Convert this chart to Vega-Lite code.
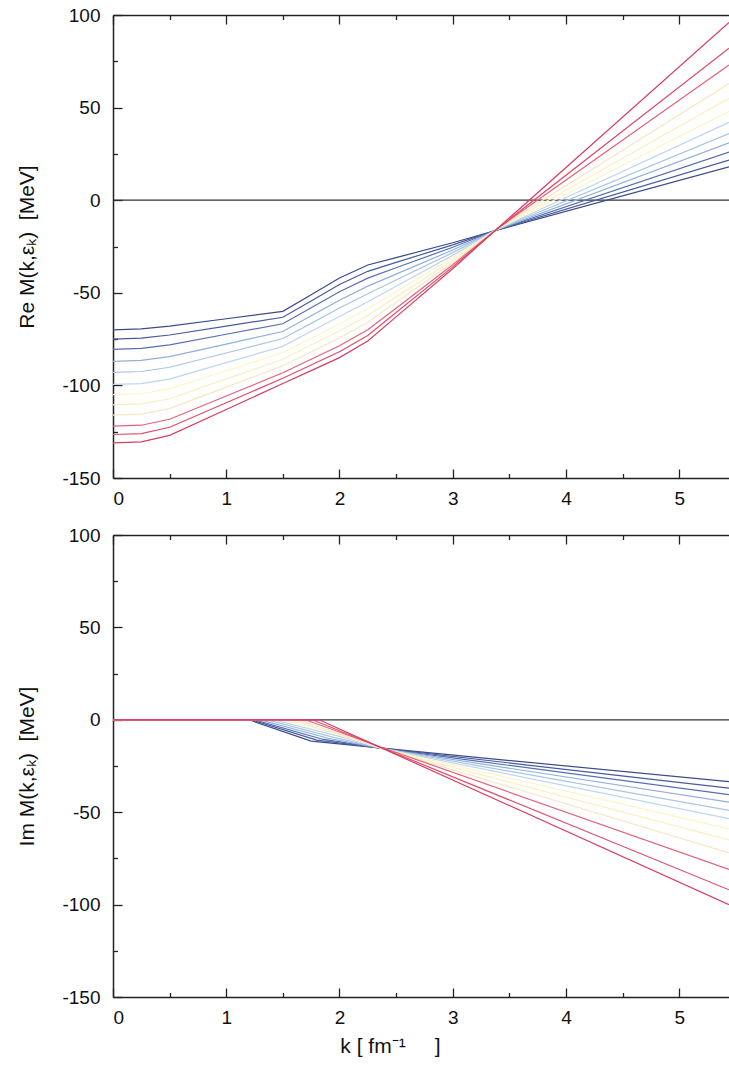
{
  "$schema": "https://vega.github.io/schema/vega-lite/v6.json",
  "padding": {"left": 16, "top": 6, "right": 0, "bottom": 4},
  "bounds": "flush",
  "spacing": 57,
  "config": {
    "view": {"stroke": null},
    "font": "Liberation Sans",
    "axis": {
      "grid": false,
      "domainColor": "#222222",
      "domainWidth": 1.5,
      "tickColor": "#222222",
      "tickWidth": 1.3,
      "tickSize": -9,
      "labelFont": "Liberation Sans",
      "labelFontSize": 19,
      "labelColor": "#111111",
      "titleFont": "Liberation Sans",
      "titleFontSize": 21,
      "titleFontWeight": "normal",
      "titleColor": "#111111"
    }
  },
  "datasets": {
    "zero": [{"k": 0, "v": 0}, {"k": 5.44, "v": 0}],
    "re": [
      {"c":0,"k":0,"v":-70},{"c":0,"k":0.25,"v":-69.5},{"c":0,"k":0.5,"v":-68},{"c":0,"k":1,"v":-64},{"c":0,"k":1.5,"v":-60},{"c":0,"k":1.75,"v":-51},{"c":0,"k":2,"v":-42},{"c":0,"k":2.25,"v":-35},{"c":0,"k":2.5,"v":-31},{"c":0,"k":3,"v":-23},{"c":0,"k":3.4,"v":-16},{"c":0,"k":5.44,"v":18},
      {"c":1,"k":0,"v":-75},{"c":1,"k":0.25,"v":-74.5},{"c":1,"k":0.5,"v":-72.8},{"c":1,"k":1,"v":-68},{"c":1,"k":1.5,"v":-63.2},{"c":1,"k":1.75,"v":-54.4},{"c":1,"k":2,"v":-45.5},{"c":1,"k":2.25,"v":-38.4},{"c":1,"k":2.5,"v":-33.6},{"c":1,"k":3,"v":-24.1},{"c":1,"k":3.4,"v":-15.9},{"c":1,"k":5.44,"v":21.6},
      {"c":2,"k":0,"v":-80.5},{"c":2,"k":0.25,"v":-80},{"c":2,"k":0.5,"v":-78.1},{"c":2,"k":1,"v":-72.4},{"c":2,"k":1.5,"v":-66.7},{"c":2,"k":1.75,"v":-58.1},{"c":2,"k":2,"v":-49.4},{"c":2,"k":2.25,"v":-42.1},{"c":2,"k":2.5,"v":-36.5},{"c":2,"k":3,"v":-25.4},{"c":2,"k":3.4,"v":-15.8},{"c":2,"k":5.44,"v":26},
      {"c":3,"k":0,"v":-87},{"c":3,"k":0.25,"v":-86.5},{"c":3,"k":0.5,"v":-84.5},{"c":3,"k":1,"v":-77.7},{"c":3,"k":1.5,"v":-70.9},{"c":3,"k":1.75,"v":-62.4},{"c":3,"k":2,"v":-54},{"c":3,"k":2.25,"v":-46.4},{"c":3,"k":2.5,"v":-39.9},{"c":3,"k":3,"v":-26.9},{"c":3,"k":3.4,"v":-15.7},{"c":3,"k":5.44,"v":31},
      {"c":4,"k":0,"v":-93},{"c":4,"k":0.25,"v":-92.5},{"c":4,"k":0.5,"v":-90.2},{"c":4,"k":1,"v":-82.5},{"c":4,"k":1.5,"v":-74.7},{"c":4,"k":1.75,"v":-66.5},{"c":4,"k":2,"v":-58.2},{"c":4,"k":2.25,"v":-50.5},{"c":4,"k":2.5,"v":-43.1},{"c":4,"k":3,"v":-28.3},{"c":4,"k":3.4,"v":-15.6},{"c":4,"k":5.44,"v":36},
      {"c":5,"k":0,"v":-99.5},{"c":5,"k":0.25,"v":-99},{"c":5,"k":0.5,"v":-96.6},{"c":5,"k":1,"v":-87.7},{"c":5,"k":1.5,"v":-78.9},{"c":5,"k":1.75,"v":-70.8},{"c":5,"k":2,"v":-62.8},{"c":5,"k":2.25,"v":-54.8},{"c":5,"k":2.5,"v":-46.5},{"c":5,"k":3,"v":-29.8},{"c":5,"k":3.4,"v":-15.5},{"c":5,"k":5.44,"v":42},
      {"c":6,"k":0,"v":-105},{"c":6,"k":0.25,"v":-104.5},{"c":6,"k":0.5,"v":-101.9},{"c":6,"k":1,"v":-92.1},{"c":6,"k":1.5,"v":-82.4},{"c":6,"k":1.75,"v":-74.5},{"c":6,"k":2,"v":-66.7},{"c":6,"k":2.25,"v":-58.5},{"c":6,"k":2.5,"v":-49.4},{"c":6,"k":3,"v":-31},{"c":6,"k":3.4,"v":-15.4},{"c":6,"k":5.44,"v":48},
      {"c":7,"k":0,"v":-110.5},{"c":7,"k":0.25,"v":-110},{"c":7,"k":0.5,"v":-107.2},{"c":7,"k":1,"v":-96.5},{"c":7,"k":1.5,"v":-85.9},{"c":7,"k":1.75,"v":-78.2},{"c":7,"k":2,"v":-70.6},{"c":7,"k":2.25,"v":-62.2},{"c":7,"k":2.5,"v":-52.2},{"c":7,"k":3,"v":-32.3},{"c":7,"k":3.4,"v":-15.3},{"c":7,"k":5.44,"v":55},
      {"c":8,"k":0,"v":-116},{"c":8,"k":0.25,"v":-115.5},{"c":8,"k":0.5,"v":-112.5},{"c":8,"k":1,"v":-100.9},{"c":8,"k":1.5,"v":-89.4},{"c":8,"k":1.75,"v":-81.9},{"c":8,"k":2,"v":-74.4},{"c":8,"k":2.25,"v":-65.9},{"c":8,"k":2.5,"v":-55.1},{"c":8,"k":3,"v":-33.6},{"c":8,"k":3.4,"v":-15.2},{"c":8,"k":5.44,"v":63},
      {"c":9,"k":0,"v":-122},{"c":9,"k":0.25,"v":-121.5},{"c":9,"k":0.5,"v":-118.3},{"c":9,"k":1,"v":-105.7},{"c":9,"k":1.5,"v":-93.2},{"c":9,"k":1.75,"v":-85.9},{"c":9,"k":2,"v":-78.6},{"c":9,"k":2.25,"v":-69.9},{"c":9,"k":2.5,"v":-58.3},{"c":9,"k":3,"v":-34.9},{"c":9,"k":3.4,"v":-15.1},{"c":9,"k":5.44,"v":73},
      {"c":10,"k":0,"v":-126.5},{"c":10,"k":0.25,"v":-126},{"c":10,"k":0.5,"v":-122.6},{"c":10,"k":1,"v":-109.4},{"c":10,"k":1.5,"v":-96.1},{"c":10,"k":1.75,"v":-89},{"c":10,"k":2,"v":-81.8},{"c":10,"k":2.25,"v":-73},{"c":10,"k":2.5,"v":-60.6},{"c":10,"k":3,"v":-36},{"c":10,"k":3.4,"v":-15.1},{"c":10,"k":5.44,"v":82},
      {"c":11,"k":0,"v":-131},{"c":11,"k":0.25,"v":-130.5},{"c":11,"k":0.5,"v":-127},{"c":11,"k":1,"v":-113},{"c":11,"k":1.5,"v":-99},{"c":11,"k":1.75,"v":-92},{"c":11,"k":2,"v":-85},{"c":11,"k":2.25,"v":-76},{"c":11,"k":2.5,"v":-63},{"c":11,"k":3,"v":-37},{"c":11,"k":3.4,"v":-15},{"c":11,"k":5.44,"v":96}
    ],
    "im": [
      {"c":0,"k":0,"v":0},{"c":0,"k":1.2,"v":0},{"c":0,"k":1.75,"v":-11.5},{"c":0,"k":2.4,"v":-15.5},{"c":0,"k":5.44,"v":-33.5},
      {"c":1,"k":0,"v":0},{"c":1,"k":1.22,"v":0},{"c":1,"k":1.8,"v":-11},{"c":1,"k":2.4,"v":-15.6},{"c":1,"k":5.44,"v":-37},
      {"c":2,"k":0,"v":0},{"c":2,"k":1.25,"v":0},{"c":2,"k":1.85,"v":-10.5},{"c":2,"k":2.4,"v":-15.7},{"c":2,"k":5.44,"v":-40.5},
      {"c":3,"k":0,"v":0},{"c":3,"k":1.3,"v":0},{"c":3,"k":1.9,"v":-10},{"c":3,"k":2.4,"v":-15.8},{"c":3,"k":5.44,"v":-44.5},
      {"c":4,"k":0,"v":0},{"c":4,"k":1.36,"v":0},{"c":4,"k":1.95,"v":-9.5},{"c":4,"k":2.4,"v":-15.8},{"c":4,"k":5.44,"v":-49},
      {"c":5,"k":0,"v":0},{"c":5,"k":1.42,"v":0},{"c":5,"k":2,"v":-9},{"c":5,"k":2.4,"v":-15.9},{"c":5,"k":5.44,"v":-53.5},
      {"c":6,"k":0,"v":0},{"c":6,"k":1.5,"v":0},{"c":6,"k":2.05,"v":-8.5},{"c":6,"k":2.4,"v":-15.9},{"c":6,"k":5.44,"v":-59},
      {"c":7,"k":0,"v":0},{"c":7,"k":1.57,"v":0},{"c":7,"k":2.4,"v":-16},{"c":7,"k":5.44,"v":-65},
      {"c":8,"k":0,"v":0},{"c":8,"k":1.63,"v":0},{"c":8,"k":2.4,"v":-16},{"c":8,"k":5.44,"v":-72},
      {"c":9,"k":0,"v":0},{"c":9,"k":1.7,"v":0},{"c":9,"k":2.4,"v":-15.5},{"c":9,"k":5.44,"v":-81},
      {"c":10,"k":0,"v":0},{"c":10,"k":1.76,"v":0},{"c":10,"k":2.4,"v":-15.8},{"c":10,"k":5.44,"v":-92},
      {"c":11,"k":0,"v":0},{"c":11,"k":1.82,"v":0},{"c":11,"k":2.4,"v":-16},{"c":11,"k":5.44,"v":-100}
    ]
  },
  "vconcat": [
    {
      "width": 616,
      "height": 463,
      "resolve": {"axis": {"x": "independent"}},
      "layer": [
        {
          "data": {"name": "zero"},
          "mark": {"type": "line", "color": "#333333", "strokeWidth": 1.2},
          "encoding": {
            "x": {"field": "k", "type": "quantitative", "scale": {"domain": [0, 5.44], "nice": false, "zero": false},
              "axis": {"orient": "top", "values": [0,0.5,1,1.5,2,2.5,3,3.5,4,4.5,5], "labels": false, "title": null,
                "tickDash": {"condition": {"test": "datum.value % 1 !== 0", "value": [4.5, 30]}, "value": []}}},
            "y": {"field": "v", "type": "quantitative", "scale": {"domain": [-150, 100], "nice": false}}
          }
        },
        {
          "data": {"name": "re"},
          "mark": {"type": "line", "strokeWidth": 1.2},
          "encoding": {
            "x": {"field": "k", "type": "quantitative", "scale": {"domain": [0, 5.44], "nice": false, "zero": false},
              "axis": {"orient": "bottom", "values": [0,0.5,1,1.5,2,2.5,3,3.5,4,4.5,5], "title": null,
                "labelExpr": "datum.value % 1 === 0 ? '' + datum.value : ''", "labelPadding": 20,
                "tickDash": {"condition": {"test": "datum.value % 1 !== 0", "value": [4.5, 30]}, "value": []}}},
            "y": {"field": "v", "type": "quantitative", "scale": {"domain": [-150, 100], "nice": false},
              "axis": {"orient": "left", "values": [-150,-125,-100,-75,-50,-25,0,25,50,75,100], "title": "Re M(k,εₖ)\u00a0\u00a0[MeV]",
                "labelExpr": "datum.value % 50 === 0 ? '' + datum.value : ''", "labelPadding": 22,
                "tickDash": {"condition": {"test": "datum.value % 50 !== 0", "value": [4.5, 30]}, "value": []},
                "titleX": -86, "titleBaseline": "middle"}},
            "color": {"field": "c", "type": "nominal",
              "scale": {"domain": [0,1,2,3,4,5,6,7,8,9,10,11],
                "range": ["#3c4a8a","#475a9c","#5570b0","#90b0da","#a8c4e6","#bcd6ef","#fdf5c6","#fbefc0","#f9e6c4","#e2627c","#dc4e6c","#d63e60"]},
              "legend": null}
          }
        }
      ]
    },
    {
      "width": 616,
      "height": 462,
      "resolve": {"axis": {"x": "independent"}},
      "layer": [
        {
          "data": {"name": "zero"},
          "mark": {"type": "line", "color": "#333333", "strokeWidth": 1.2},
          "encoding": {
            "x": {"field": "k", "type": "quantitative", "scale": {"domain": [0, 5.44], "nice": false, "zero": false},
              "axis": {"orient": "top", "values": [0,0.5,1,1.5,2,2.5,3,3.5,4,4.5,5], "labels": false, "title": null,
                "tickDash": {"condition": {"test": "datum.value % 1 !== 0", "value": [4.5, 30]}, "value": []}}},
            "y": {"field": "v", "type": "quantitative", "scale": {"domain": [-150, 100], "nice": false}}
          }
        },
        {
          "data": {"name": "im"},
          "mark": {"type": "line", "strokeWidth": 1.2},
          "encoding": {
            "x": {"field": "k", "type": "quantitative", "scale": {"domain": [0, 5.44], "nice": false, "zero": false},
              "axis": {"orient": "bottom", "values": [0,0.5,1,1.5,2,2.5,3,3.5,4,4.5,5], "title": "k\u00a0[\u00a0fm⁻¹\u00a0\u00a0\u00a0\u00a0\u00a0]",
                "labelExpr": "datum.value % 1 === 0 ? '' + datum.value : ''", "labelPadding": 20,
                "tickDash": {"condition": {"test": "datum.value % 1 !== 0", "value": [4.5, 30]}, "value": []},
                "titleX": 277, "titleY": 55, "titleBaseline": "alphabetic", "titleAlign": "center"}},
            "y": {"field": "v", "type": "quantitative", "scale": {"domain": [-150, 100], "nice": false},
              "axis": {"orient": "left", "values": [-150,-125,-100,-75,-50,-25,0,25,50,75,100], "title": "Im M(k,εₖ)\u00a0\u00a0[MeV]",
                "labelExpr": "datum.value % 50 === 0 ? '' + datum.value : ''", "labelPadding": 22,
                "tickDash": {"condition": {"test": "datum.value % 50 !== 0", "value": [4.5, 30]}, "value": []},
                "titleX": -86, "titleBaseline": "middle"}},
            "color": {"field": "c", "type": "nominal",
              "scale": {"domain": [0,1,2,3,4,5,6,7,8,9,10,11],
                "range": ["#3c4a8a","#475a9c","#5570b0","#90b0da","#a8c4e6","#bcd6ef","#fdf5c6","#fbefc0","#f9e6c4","#e2627c","#dc4e6c","#d63e60"]},
              "legend": null}
          }
        }
      ]
    }
  ]
}
